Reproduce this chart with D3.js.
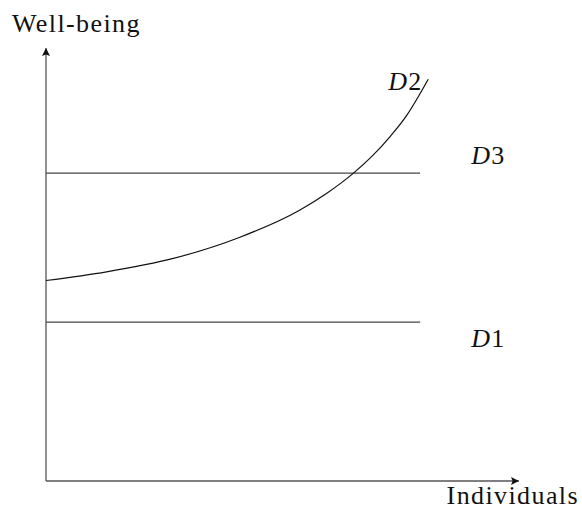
<!DOCTYPE html>
<html>
<head>
<meta charset="utf-8">
<script src="https://cdn.jsdelivr.net/npm/d3@7"></script>
<style>
  body { margin: 0; background: #fff; }
  text { font-family: "Liberation Serif", "DejaVu Serif", serif; fill: #111; font-size: 26px; letter-spacing: 1.4px; }
</style>
</head>
<body>
<div id="chart"></div>
<script>
// set the dimensions of the graph
var width = 582,
    height = 510;

// value ranges of the axes (arbitrary units)
var xDomain = [0, 100]
var yDomain = [0, 100]

// horizontal lines D3 and D1
var flatNames = ['D3', 'D1']
var flatLevels = [71.1, 36.7]
var flatEnd = 79.1

// curve D2
var curveX = [0, 12.8, 26.9, 41.0, 53.7, 59.3, 65.0, 69.2, 72.7, 76.3, 79.1, 80.8]
var curveY = [46.3, 48.3, 51.4, 56.3, 62.6, 66.4, 71.1, 75.3, 79.5, 84.5, 89.5, 92.8]

var axisLabels = ['Well-being', 'Individuals']

var svg = d3.select("#chart")
    .append("svg")
    .attr("width", width)
    .attr("height", height)

var x = d3.scaleLinear()
    .domain(xDomain)
    .range([46, 519]);

var y = d3.scaleLinear()
    .domain(yDomain)
    .range([481, 48]);

// arrow heads
svg.append("defs")
    .append("marker")
    .attr("id", "arrow")
    .attr("viewBox", "0 0 10 10")
    .attr("refX", 10)
    .attr("refY", 5)
    .attr("markerWidth", 10)
    .attr("markerHeight", 8)
    .attr("markerUnits", "userSpaceOnUse")
    .attr("orient", "auto")
    .append("path")
    .attr("d", "M0,0 L10,5 L0,10 L2,5 Z")
    .attr("fill", "#111")

// axes
svg.append("line")
    .attr("x1", x(0)).attr("y1", y(0))
    .attr("x2", x(0)).attr("y2", y(100))
    .attr("stroke", "#555")
    .attr("stroke-width", 1.3)
    .attr("marker-end", "url(#arrow)")

svg.append("line")
    .attr("x1", x(0)).attr("y1", y(0))
    .attr("x2", x(100)).attr("y2", y(0))
    .attr("stroke", "#555")
    .attr("stroke-width", 1.3)
    .attr("marker-end", "url(#arrow)")

svg.append("text")
    .attr("x", 12)
    .attr("y", 32)
    .text(axisLabels[0])

svg.append("text")
    .attr("x", 579)
    .attr("y", 504)
    .attr("text-anchor", "end")
    .text(axisLabels[1])

// flat lines
flatLevels.forEach(function (v, i) {
    svg.append("line")
        .attr("x1", x(0)).attr("y1", y(v))
        .attr("x2", x(flatEnd)).attr("y2", y(v))
        .attr("stroke", "#444")
        .attr("stroke-width", 1.2)

    var t = svg.append("text")
        .attr("x", x(flatEnd) + 51)
        .attr("y", i == 0 ? y(v) - 9 : y(v) + 25)
    t.append("tspan").style("font-style", "italic").text(flatNames[i][0])
    t.append("tspan").text(flatNames[i].slice(1))
})

// curve D2
var pts = curveX.map(function (d, i) { return [d, curveY[i]] })
var line = d3.line()
    .x(function (d) { return x(d[0]); })
    .y(function (d) { return y(d[1]); })
    .curve(d3.curveMonotoneX)

svg.append("path")
    .datum(pts)
    .attr("d", line)
    .attr("fill", "none")
    .attr("stroke", "#111")
    .attr("stroke-width", 1.2)

var last = pts[pts.length - 1]
var t2 = svg.append("text")
    .attr("x", x(last[0]) - 40)
    .attr("y", y(last[1]) + 11)
t2.append("tspan").style("font-style", "italic").text("D")
t2.append("tspan").text("2")
</script>
</body>
</html>
